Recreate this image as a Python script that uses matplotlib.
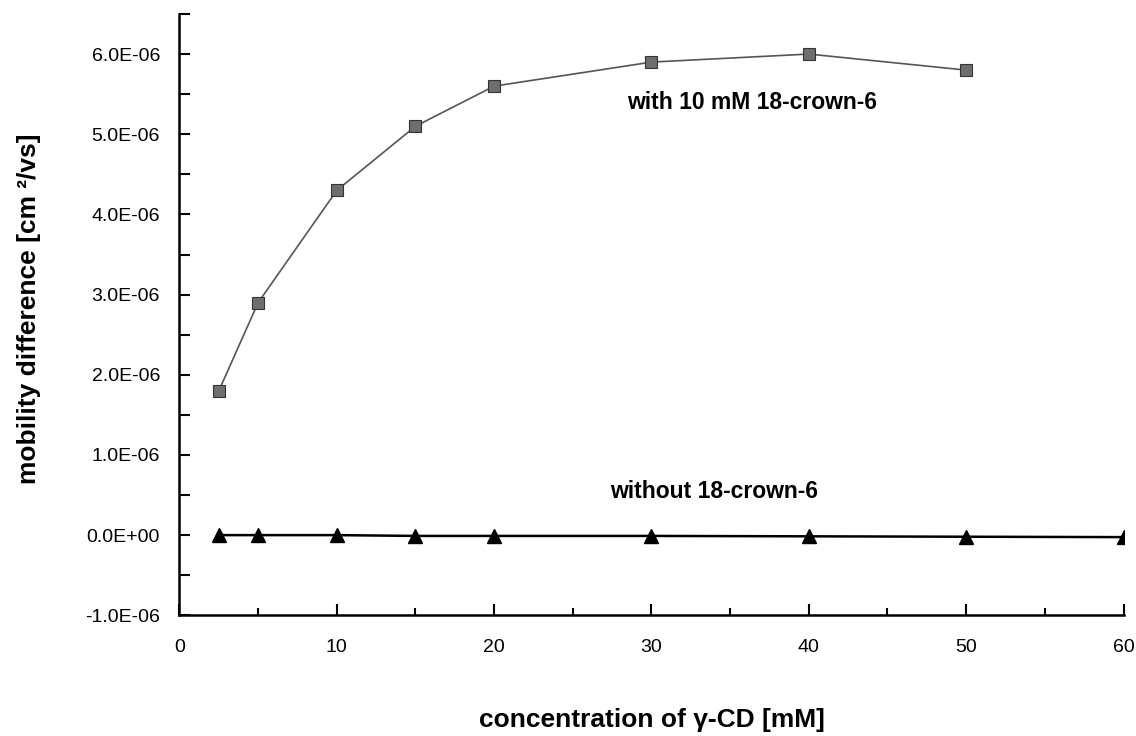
import numpy as np
import matplotlib.pyplot as plt
from matplotlib.ticker import FuncFormatter, MultipleLocator

plt.rcParams['font.family'] = ['Liberation Sans', 'DejaVu Sans']

# data
conc_with = [2.5, 5, 10, 15, 20, 30, 40, 50]
mob_with = [1.8e-6, 2.9e-6, 4.3e-6, 5.1e-6, 5.6e-6, 5.9e-6, 6.0e-6, 5.8e-6]
conc_without = [2.5, 5, 10, 15, 20, 30, 40, 50, 60]
mob_without = [0.0, 0.0, 0.0, -0.01e-6, -0.01e-6, -0.01e-6, -0.015e-6, -0.02e-6, -0.025e-6]

fig = plt.figure(figsize=(11.36, 7.36), dpi=100)
ax = fig.add_axes([0.158, 0.164, 0.831, 0.817])

ax.plot(conc_with, mob_with, color='#555555', lw=1.2, marker='s', ms=8,
        mfc='#6e6e6e', mec='#333333', mew=0.8)
ax.plot(conc_without, mob_without, color='black', lw=1.8, marker='^', ms=10,
        mfc='black', mec='black')

ax.text(36.4, 5.39e-6, 'with 10 mM 18-crown-6', fontsize=16.5, fontweight='bold',
        ha='center', va='center')
ax.text(34.0, 0.55e-6, 'without 18-crown-6', fontsize=16.5, fontweight='bold',
        ha='center', va='center')

ax.set_xlim(0, 60)
ax.set_ylim(-1e-6, 6.5e-6)
ax.xaxis.set_major_locator(MultipleLocator(10))
ax.xaxis.set_minor_locator(MultipleLocator(5))
ax.yaxis.set_major_locator(MultipleLocator(1e-6))
ax.yaxis.set_minor_locator(MultipleLocator(0.5e-6))

def fmt(v, pos):
    if abs(v) < 1e-12:
        return '0.0E+00'
    return '%.1E' % v

ax.yaxis.set_major_formatter(FuncFormatter(fmt))

for s in ['top', 'right']:
    ax.spines[s].set_visible(False)
for s in ['left', 'bottom']:
    ax.spines[s].set_linewidth(1.8)

ax.tick_params(axis='x', which='major', direction='in', length=8, width=1.5,
               labelsize=14, pad=17)
ax.tick_params(axis='x', which='minor', direction='in', length=5, width=1.5)
ax.tick_params(axis='y', which='both', direction='in', length=8, width=1.5,
               labelsize=14, pad=14)

ax.set_xlabel('concentration of \u03b3-CD [mM]', fontsize=19, fontweight='bold')
ax.set_ylabel('mobility difference [cm \u00b2/vs]', fontsize=19, fontweight='bold')
ax.xaxis.set_label_coords(0.5, -0.155)
ax.yaxis.set_label_coords(-0.147, 0.51)

fig.savefig('out.png', dpi=100)
